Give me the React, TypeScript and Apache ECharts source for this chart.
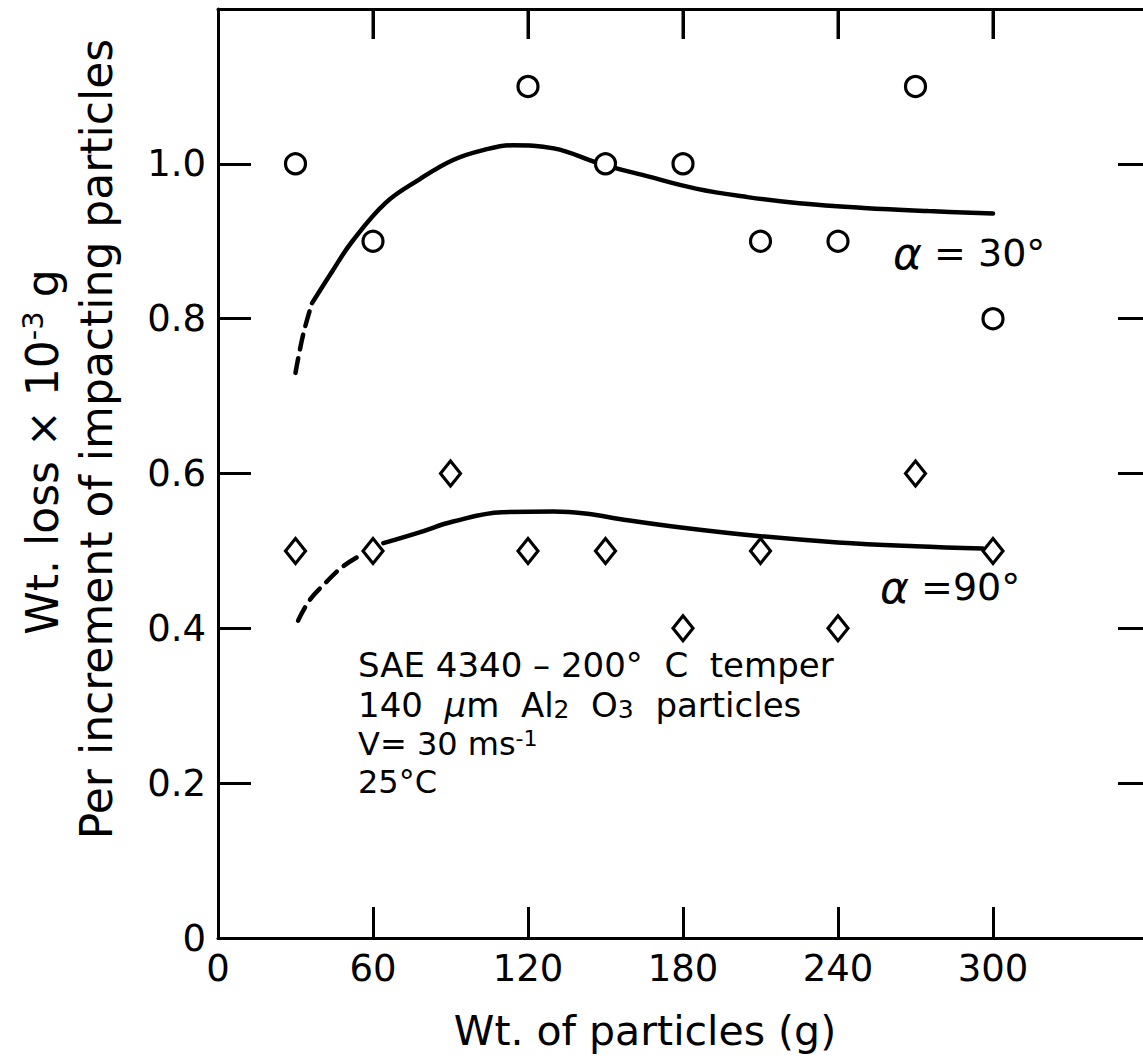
import React, { useEffect, useRef } from "react";
import * as echarts from "echarts";

const FONT = '"DejaVu Sans", "Liberation Sans", sans-serif';

// Axis ticks
const xMin = 0;
const xMax = 360;
const xStep = 60;
const yMin = 0;
const yMax = 1.2;
const yStep = 0.2;

// inward tick marks on the top frame edge (x values)
const topTicks = [60, 120, 180, 240, 300];

// alpha = 30 deg data (circles)
const circleX = [30, 60, 120, 150, 180, 210, 240, 270, 300];
const circleY = [1.0, 0.9, 1.1, 1.0, 1.0, 0.9, 0.9, 1.1, 0.8];

// alpha = 90 deg data (diamonds)
const diamondX = [30, 60, 90, 120, 150, 180, 210, 240, 270, 300];
const diamondY = [0.5, 0.5, 0.6, 0.5, 0.5, 0.4, 0.5, 0.4, 0.6, 0.5];

// fitted curve alpha = 30
const c30DashX = [30, 33, 36.4];
const c30DashY = [0.73, 0.78, 0.82];
const c30X = [36.4, 44, 52, 65, 78, 91, 103, 114, 130, 148, 165, 185, 205, 225, 250, 275, 300];
const c30Y = [0.82, 0.86, 0.9, 0.95, 0.98, 1.005, 1.018, 1.024, 1.02, 1.0, 0.985, 0.968, 0.957, 0.949, 0.943, 0.939, 0.936];

// fitted curve alpha = 90
const c90DashX = [31, 35.6, 42, 48, 55];
const c90DashY = [0.41, 0.437, 0.46, 0.479, 0.494];
const c90X = [64, 78, 91, 110, 130, 143, 156, 180, 210, 240, 270, 296];
const c90Y = [0.51, 0.524, 0.538, 0.55, 0.551, 0.548, 0.541, 0.53, 0.519, 0.511, 0.506, 0.503];

const zip = (xs: number[], ys: number[]) => xs.map((x, i) => [x, ys[i]]);

export default function App() {
  const ref = useRef<HTMLDivElement>(null);

  useEffect(() => {
    if (!ref.current) return;
    const chart = echarts.init(ref.current, undefined, { renderer: "svg" });
    const black = "#000";
    const mkAxisLine = () => ({ show: true, onZero: false, lineStyle: { color: black, width: 3 } });

    const lineSeries = (data: number[][], dashed: boolean) => ({
      type: "line",
      data,
      smooth: 0.4,
      showSymbol: false,
      symbol: "none",
      z: 2,
      lineStyle: { color: black, width: 4.5, type: dashed ? [15, 9] : "solid", cap: "round" },
      silent: true,
    });

    const txt = (x: number, y: number, text: string, fontSize: number, align: string, extra: any = {}) => ({
      type: "text",
      x,
      y,
      ...extra.el,
      style: {
        text,
        fontSize,
        fontFamily: FONT,
        fill: black,
        align,
        verticalAlign: "middle",
        textAlign: align,
        textVerticalAlign: "middle",
        ...(extra.style || {}),
      },
    });

    const texts = [
      txt(645, 1031, "Wt. of particles (g)", 41, "center"),
      txt(42, 452, "Wt. loss × 10{sup|-3} g", 44, "center", {
        el: { rotation: Math.PI / 2 },
        style: {
          rich: {
            sup: { fontSize: 29, fontFamily: FONT, fill: black, verticalAlign: "top", padding: [0, 0, 18, 0] },
          },
        },
      }),
      txt(96, 439, "Per increment of impacting particles", 44, "center", {
        el: { rotation: Math.PI / 2 },
      }),
      txt(893, 253, "{a|α} = 30°", 38, "left", {
        style: { rich: { a: { fontSize: 44, fontFamily: FONT, fontStyle: "italic", fill: black } } },
      }),
      txt(880, 587, "{a|α} =90°", 38, "left", {
        style: { rich: { a: { fontSize: 44, fontFamily: FONT, fontStyle: "italic", fill: black } } },
      }),
      txt(358, 665, "SAE 4340 – 200°  C  temper", 34, "left"),
      txt(358, 705, "140  {mu|μ}m  Al{sub|2}  O{sub|3}  particles", 34, "left", {
        style: {
          lineHeight: 34,
          rich: {
            mu: { fontSize: 34, fontFamily: FONT, fontStyle: "italic", fill: black, lineHeight: 34 },
            sub: { fontSize: 25, fontFamily: FONT, fill: black, verticalAlign: "bottom", lineHeight: 34, padding: [6, 0, 0, 0] },
          },
        },
      }),
      txt(358, 744, "V= 30 ms{sup|-1}", 32, "left", {
        style: {
          lineHeight: 34,
          rich: {
            sup: { fontSize: 22, fontFamily: FONT, fill: black, verticalAlign: "top", lineHeight: 34, padding: [0, 0, 6, 0] },
          },
        },
      }),
      txt(358, 782, "25°C", 32, "left"),
    ];

    chart.setOption({
      animation: false,
      backgroundColor: "#fff",
      textStyle: { fontFamily: FONT },
      grid: { left: 218, top: 9, right: 12, bottom: 125, outerBoundsMode: "none", containLabel: false },
      xAxis: [
        {
          type: "value",
          position: "bottom",
          min: xMin,
          max: xMax,
          interval: xStep,
          axisLine: mkAxisLine(),
          axisTick: { show: true, inside: true, length: 31, lineStyle: { color: black, width: 3 } },
          axisLabel: {
            color: black,
            fontSize: 37,
            fontFamily: FONT,
            margin: 12,
            formatter: (v: number) => (v === xMax ? "" : String(v)),
          },
          splitLine: { show: false },
        },
        {
          type: "value",
          position: "top",
          min: xMin,
          max: xMax,
          interval: xStep,
          axisLine: mkAxisLine(),
          axisTick: { show: true, inside: true, length: 30, lineStyle: { color: black, width: 3 } },
          axisLabel: { show: false },
          splitLine: { show: false },
        },
      ],
      yAxis: [
        {
          type: "value",
          position: "left",
          min: yMin,
          max: yMax,
          interval: yStep,
          axisLine: mkAxisLine(),
          axisTick: { show: true, inside: true, length: 33, lineStyle: { color: black, width: 3 } },
          axisLabel: {
            color: black,
            fontSize: 37,
            fontFamily: FONT,
            margin: 12,
            formatter: (v: number) => {
              if (Math.abs(v - yMax) < 1e-6) return "";
              if (v === 0) return "0";
              return v.toFixed(1);
            },
          },
          splitLine: { show: false },
        },
        {
          type: "value",
          position: "right",
          min: yMin,
          max: yMax,
          interval: yStep,
          axisLine: mkAxisLine(),
          axisTick: { show: true, inside: true, length: 30, lineStyle: { color: black, width: 3 } },
          axisLabel: { show: false },
          splitLine: { show: false },
        },
      ],
      series: [
        lineSeries(zip(c30DashX, c30DashY), true),
        lineSeries(zip(c30X, c30Y), false),
        lineSeries(zip(c90DashX, c90DashY), true),
        lineSeries(zip(c90X, c90Y), false),
        {
          type: "scatter",
          data: zip(circleX, circleY),
          symbol: "circle",
          symbolSize: 20,
          z: 5,
          itemStyle: { color: "#fff", borderColor: black, borderWidth: 3.2, opacity: 1 },
        },
        {
          type: "scatter",
          data: zip(diamondX, diamondY),
          symbol: "diamond",
          symbolSize: [20, 25],
          z: 5,
          itemStyle: { color: "#fff", borderColor: black, borderWidth: 3.2, opacity: 1 },
        },
      ],
      graphic: texts,
    });

    // top-edge inward ticks, positioned through the chart's own scale conversion
    const tickEls = topTicks.map((t) => {
      const p = chart.convertToPixel({ xAxisIndex: 0, yAxisIndex: 0 }, [t, yMax]) as number[];
      return {
        type: "rect",
        z: 100,
        silent: true,
        shape: { x: p[0] - 1.5, y: p[1], width: 3, height: 30 },
        style: { fill: black },
      };
    });
    chart.setOption({ graphic: [...texts, ...tickEls] });

    return () => {
      chart.dispose();
    };
  }, []);

  return (
    <div style={{ position: "absolute", left: 0, top: 0, width: 1143, height: 1063, overflow: "hidden", background: "#fff" }}>
      <div ref={ref} style={{ width: 1160, height: 1063 }} />
    </div>
  );
}
